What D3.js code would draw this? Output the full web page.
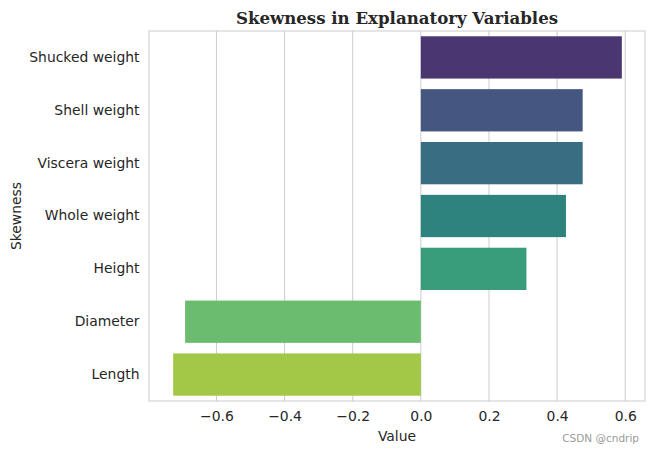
<!DOCTYPE html>
<html><head><meta charset="utf-8">
<script src="https://cdn.jsdelivr.net/npm/d3@7"></script>
<style>body{margin:0;background:#fff}svg{display:block}</style>
</head><body>
<script>
const categories = ["Shucked weight","Shell weight","Viscera weight","Whole weight","Height","Diameter","Length"];
const values = [0.590, 0.475, 0.475, 0.426, 0.310, -0.692, -0.727];
const colors = ["#4a3771","#455681","#386d82","#2f837f","#399d7b","#6bbc6e","#a3c746"];
const xTicks = [-0.6,-0.4,-0.2,0.0,0.2,0.4,0.6];
const title = "Skewness in Explanatory Variables";
const xLabel = "Value", yLabel = "Skewness";

const W=655,H=454;
const m={left:149,right:10,top:31,bottom:53};
const svg=d3.select("body").append("svg").attr("width",W).attr("height",H);
const x=d3.scaleLinear().domain([-0.798,0.658]).range([m.left,W-m.right]);
const y=d3.scaleBand().domain(categories).range([m.top,H-m.bottom]).paddingInner(0.2).paddingOuter(0.1);
const font="DejaVu Sans, sans-serif";
// grid
svg.append("g").selectAll("line").data(xTicks).join("line")
  .attr("x1",d=>x(d)).attr("x2",d=>x(d)).attr("y1",m.top).attr("y2",H-m.bottom)
  .attr("stroke","#cccccc").attr("stroke-width",1);
// bars
svg.append("g").selectAll("rect").data(values).join("rect")
  .attr("x",d=>x(Math.min(0,d))).attr("width",d=>Math.abs(x(d)-x(0)))
  .attr("y",(d,i)=>y(categories[i])).attr("height",y.bandwidth())
  .attr("fill",(d,i)=>colors[i]);
// frame
svg.append("rect").attr("x",m.left).attr("y",m.top).attr("width",W-m.right-m.left).attr("height",H-m.bottom-m.top)
  .attr("fill","none").attr("stroke","#cccccc").attr("stroke-width",1);
// x axis
const xa=svg.append("g").attr("transform",`translate(0,${H-m.bottom})`)
  .call(d3.axisBottom(x).tickValues(xTicks).tickFormat(d3.format(".1f")).tickSize(0).tickPadding(10));
xa.select(".domain").remove();
xa.selectAll("text").attr("font-family",font).attr("font-size","13.9px").attr("fill","#262626");
// y axis
const ya=svg.append("g").attr("transform",`translate(${m.left},0)`)
  .call(d3.axisLeft(y).tickSize(0).tickPadding(9.5));
ya.select(".domain").remove();
ya.selectAll("text").attr("font-family",font).attr("font-size","13.9px").attr("fill","#262626");
// labels
svg.append("text").attr("x",(m.left+W-m.right)/2).attr("y",441).attr("text-anchor","middle")
  .attr("font-family",font).attr("font-size","13.9px").attr("fill","#262626").text(xLabel);
svg.append("text").attr("transform",`translate(21,${(m.top+H-m.bottom)/2}) rotate(-90)`).attr("text-anchor","middle")
  .attr("font-family",font).attr("font-size","13.9px").attr("fill","#262626").text(yLabel);
svg.append("text").attr("x",(m.left+W-m.right)/2).attr("y",24).attr("text-anchor","middle")
  .attr("font-family","DejaVu Serif, serif").attr("font-weight","bold").attr("font-size","16.6px").attr("fill","#262626").text(title);
svg.append("text").attr("x",639).attr("y",442).attr("text-anchor","end")
  .attr("font-family",font).attr("font-size","10.5px").attr("fill","#9a9a9a").text("CSDN @cndrip");
</script>
</body></html>
